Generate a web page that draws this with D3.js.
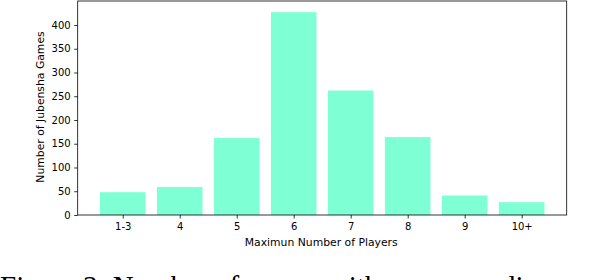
<!DOCTYPE html>
<html>
<head>
<meta charset="utf-8">
<script src="https://cdn.jsdelivr.net/npm/d3@7"></script>
<style>
  body { margin: 0; background: #fff; }
  svg { display: block; }
  .tick text { font-family: "DejaVu Sans", sans-serif; font-size: 10px; fill: #000; }
</style>
</head>
<body>
<div id="chart"></div>
<script>
// max players per game, and count of games
const categories = ['1-3', '4', '5', '6', '7', '8', '9', '10+'];
const gameCounts = [48, 59, 162, 427, 262, 164, 41, 27];
const yTicks = [0, 50, 100, 150, 200, 250, 300, 350, 400];

const width = 598, height = 280;
const margin = { left: 77.7, right: 31.3, top: 1, bottom: 65 };
const plotW = width - margin.left - margin.right;
const plotH = height - margin.top - margin.bottom;

const svg = d3.select('#chart').append('svg')
  .attr('width', width)
  .attr('height', height);

const g = svg.append('g')
  .attr('transform', 'translate(' + margin.left + ',' + margin.top + ')');

// matplotlib style: bars at integer positions, width 0.8, 5% margins
const x = d3.scaleLinear()
  .domain([-0.79, categories.length - 1 + 0.79])
  .range([0, plotW]);

const y = d3.scaleLinear()
  .domain([0, 450.5])
  .range([plotH, 0]);

g.selectAll('rect.bar')
  .data(gameCounts)
  .enter()
  .append('rect')
  .attr('class', 'bar')
  .attr('x', (d, i) => x(i - 0.4))
  .attr('width', (d, i) => x(i + 0.4) - x(i - 0.4))
  .attr('y', d => y(d))
  .attr('height', d => plotH - y(d))
  .attr('fill', '#7fffd4');

// axes
const xAxis = g.append('g')
  .attr('transform', 'translate(0,' + plotH + ')')
  .call(d3.axisBottom(x)
    .tickValues(d3.range(categories.length))
    .tickFormat(i => categories[i])
    .tickSize(3.5)
    .tickPadding(4.5));

const yAxis = g.append('g')
  .call(d3.axisLeft(y)
    .tickValues(yTicks)
    .tickSize(3.5)
    .tickPadding(3.5));

[xAxis, yAxis].forEach(a => {
  a.select('.domain').remove();
  a.selectAll('.tick line').attr('stroke', '#000').attr('stroke-width', 0.8);
});

// frame
g.append('rect')
  .attr('x', 0).attr('y', 0)
  .attr('width', plotW).attr('height', plotH)
  .attr('fill', 'none')
  .attr('stroke', '#000')
  .attr('stroke-width', 0.8);

// axis labels
g.append('text')
  .attr('x', plotW / 2 - 1)
  .attr('y', plotH + 31)
  .attr('text-anchor', 'middle')
  .style('font-family', '"DejaVu Sans", sans-serif')
  .style('font-size', '10.8px')
  .text('Maximun Number of Players');

g.append('text')
  .attr('transform', 'translate(' + (-34) + ',' + (plotH / 2 - 1) + ') rotate(-90)')
  .attr('text-anchor', 'middle')
  .style('font-family', '"DejaVu Sans", sans-serif')
  .style('font-size', '10.8px')
  .text('Number of Jubensha Games');

// caption, cut off by the page bottom like in the source:
// only the top ~3px of the capitals show, so find the cap height first
const captionFont = '29px "Liberation Serif"';
const ctx = document.createElement('canvas').getContext('2d');
ctx.font = captionFont;
const capAscent = ctx.measureText('F').actualBoundingBoxAscent || 19;

svg.append('text')
  .attr('x', 0)
  .attr('y', 277 + capAscent)
  .style('font-family', '"Liberation Serif", serif')
  .style('font-size', '29px')
  .text('Figure 3: Number of games with corresponding maximum number of players.');
</script>
</body>
</html>
